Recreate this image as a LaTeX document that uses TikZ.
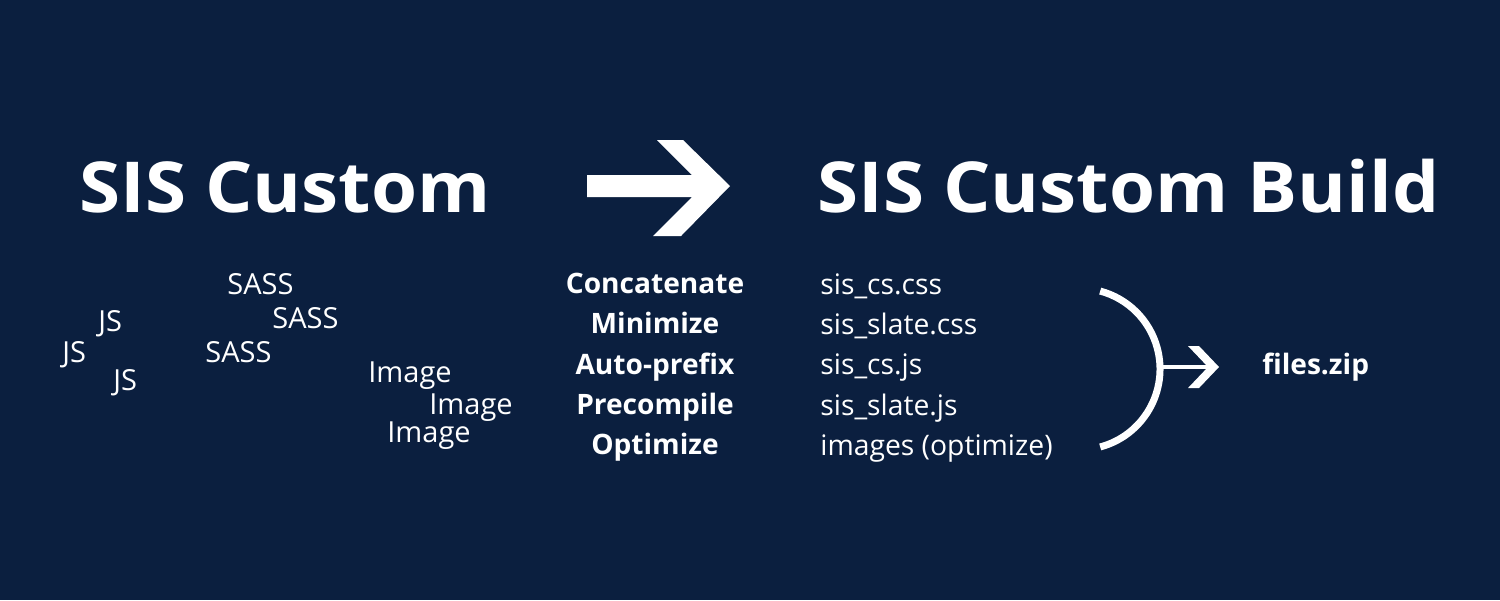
\documentclass[tikz,border=0pt]{standalone}
\usepackage{fontspec}
\setmainfont{Open Sans}
\newfontfamily\titlefamily[FakeStretch=1.06]{Open Sans}
\definecolor{navy}{HTML}{0B1F3F}
\tikzset{
  title/.style={text=white, font=\titlefamily\bfseries\fontsize{40}{48}\selectfont, inner sep=0pt, anchor=base west},
  stepitem/.style={text=white, font=\bfseries\fontsize{16}{19}\selectfont, inner sep=0pt, anchor=base},
  fileitem/.style={text=white, font=\fontsize{16.1}{19}\selectfont, inner sep=0pt, anchor=base west},
  srcitem/.style={text=white, font=\fontsize{16.5}{20}\selectfont, inner sep=0pt, anchor=base west},
  zipitem/.style={text=white, font=\bfseries\fontsize{16}{19}\selectfont, inner sep=0pt, anchor=base west},
}
\begin{document}
\begin{tikzpicture}[x=0.02cm, y=-0.02cm]
\fill[navy] (0,0) rectangle (1500,600);
\useasboundingbox (0,0) rectangle (1500,600);
% titles
\node[title] (t1) at (79,212) {SIS Custom};
\node[title] (t2) at (817,212) {SIS Custom Build};
% big arrow
\fill[white] (657,140) -- (683,140) -- (730,186) -- (681,236) -- (653,236) -- (692,197) -- (587,197) -- (587,175) -- (692,175) -- cycle;
% sources
\node[srcitem] (s1) at (227,294) {SASS};
\node[srcitem] (s2) at (272,328) {SASS};
\node[srcitem] (s3) at (205,362) {SASS};
\node[srcitem] (j1) at (98,331) {JS};
\node[srcitem] (j2) at (62,362) {JS};
\node[srcitem] (j3) at (113,390) {JS};
\node[srcitem] (i1) at (368,382) {Image};
\node[srcitem] (i2) at (429,414) {Image};
\node[srcitem] (i3) at (387,442) {Image};
% steps
\node[stepitem] (p1) at (655,293) {Concatenate};
\node[stepitem] (p2) at (655,333.5) {Minimize};
\node[stepitem] (p3) at (655,374) {Auto-prefix};
\node[stepitem] (p4) at (655,414) {Precompile};
\node[stepitem] (p5) at (655,454) {Optimize};
% files
\node[fileitem] (f1) at (820,294) {sis\_cs.css};
\node[fileitem] (f2) at (820,334) {sis\_slate.css};
\node[fileitem] (f3) at (820,374.5) {sis\_cs.js};
\node[fileitem] (f4) at (820,415) {sis\_slate.js};
\node[fileitem] (f5) at (820,455) {images (optimize)};
% bracket
\coordinate (bc) at (1079.3,369);
\draw[white, line width=7*0.02cm] (bc) ++(75:80.7) arc[start angle=75, end angle=-75, radius=80.7];
\coordinate (bt) at (1160,367);
\coordinate (at) at (1208,367);
\draw[white, line width=4*0.02cm] (bt) -- (at);
\fill[white] (1188,346) -- (1199,346) -- (1219,367) -- (1199,388) -- (1188,388) -- (1208,367) -- cycle;
\node[zipitem] (zip) at (1262,374) {files.zip};
\end{tikzpicture}
\end{document}
